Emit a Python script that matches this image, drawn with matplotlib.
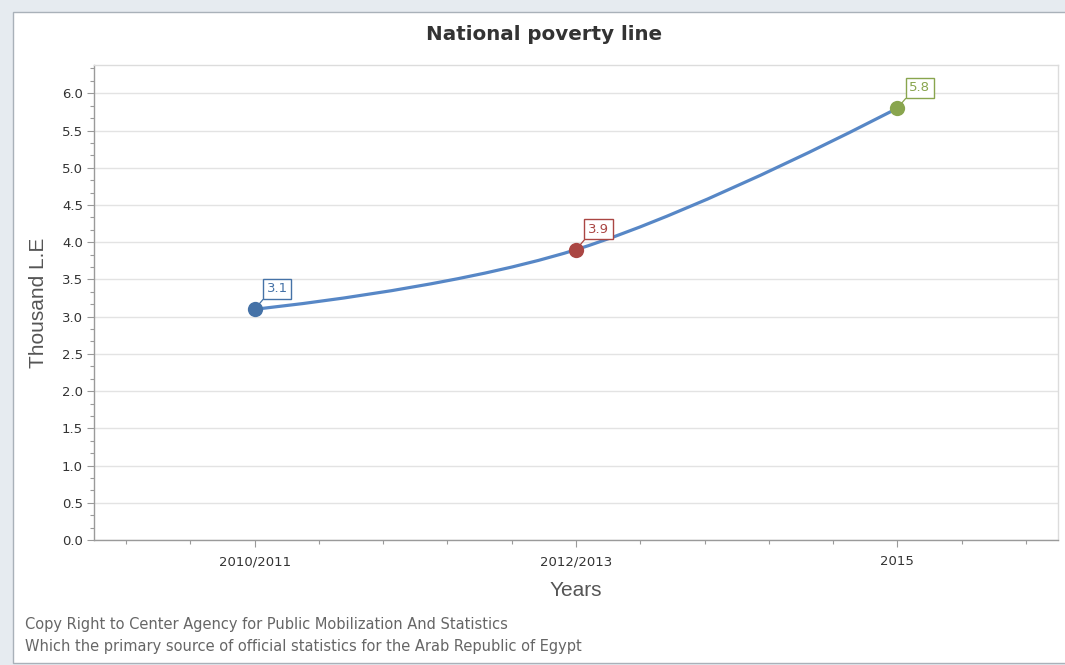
import numpy as np
import matplotlib
matplotlib.use("Agg")
import matplotlib.pyplot as plt
from matplotlib.patches import Rectangle, PathPatch
from matplotlib.path import Path
from matplotlib.ticker import MultipleLocator, FixedLocator, FormatStrFormatter

# Data
categories = ["2010/2011", "2012/2013", "2015"]
values = [3.1, 3.9, 5.8]
point_colors = ["#4572A7", "#AA4643", "#89A54E"]
y_ticks = [0.0, 0.5, 1.0, 1.5, 2.0, 2.5, 3.0, 3.5, 4.0, 4.5, 5.0, 5.5, 6.0]

W, H = 1065, 665
fig = plt.figure(figsize=(W / 100, H / 100), dpi=100)
fig.patch.set_facecolor("#e6ebf0")

# white panel behind the chart
panel = Rectangle((13 / W, 1 - 663 / H), 1.0, (663 - 12) / H, transform=fig.transFigure,
                  facecolor="white", edgecolor="#a9b1b9", linewidth=1.0, zorder=0)
fig.patches.append(panel)

ax = fig.add_axes([94 / W, 1 - 540 / H, (1058 - 94) / W, (540 - 65) / H])
ax.set_zorder(2)
ax.set_facecolor("white")

x = np.arange(len(values), dtype=float)
y = np.array(values, dtype=float)


def spline_path(px, py, smoothing=1.5):
    """Smooth bezier path through the points (control points from neighbours)."""
    n = len(px)
    left = [(px[i], py[i]) for i in range(n)]
    right = [(px[i], py[i]) for i in range(n)]
    d = smoothing + 1
    for i in range(1, n - 1):
        lx = (smoothing * px[i] + px[i - 1]) / d
        ly = (smoothing * py[i] + py[i - 1]) / d
        rx = (smoothing * px[i] + px[i + 1]) / d
        ry = (smoothing * py[i] + py[i + 1]) / d
        if rx != lx:
            corr = (ry - ly) * (rx - px[i]) / (rx - lx) + py[i] - ry
            ly += corr
            ry += corr
        left[i] = (lx, ly)
        right[i] = (rx, ry)
    verts = [(px[0], py[0])]
    codes = [Path.MOVETO]
    for i in range(1, n):
        verts += [right[i - 1], left[i], (px[i], py[i])]
        codes += [Path.CURVE4] * 3
    return Path(verts, codes)


curve = PathPatch(spline_path(x, y), facecolor="none", edgecolor="#5787c6",
                  linewidth=2.3, capstyle="round", joinstyle="round", zorder=3)
ax.add_patch(curve)

for xi, yi, c in zip(x, y, point_colors):
    ax.plot(xi, yi, "o", color=c, markersize=11, markeredgewidth=0, zorder=4)
    ax.annotate(f"{yi:.1f}", xy=(xi, yi), xytext=(8.6, 10.0), textcoords="offset points",
                fontsize=9.5, color=c, ha="left", va="bottom",
                bbox=dict(boxstyle="square,pad=0.28", facecolor="white", edgecolor=c, linewidth=1.0),
                arrowprops=dict(arrowstyle="-", color=c, linewidth=0.9, shrinkA=0, shrinkB=0,
                                relpos=(0.0, 0.0)),
                zorder=5)

ax.set_xlim(-0.5, len(values) - 0.5)
ax.set_ylim(0, 6.38)

ax.set_xticks(x)
ax.set_xticklabels(categories)
ax.xaxis.set_minor_locator(MultipleLocator(0.2))
ax.yaxis.set_major_locator(FixedLocator(y_ticks))
ax.yaxis.set_major_formatter(FormatStrFormatter("%.1f"))
ax.yaxis.set_minor_locator(MultipleLocator(0.5 / 3))

ax.tick_params(axis="both", which="major", length=5, width=0.8, color="#9a9a9a",
               labelsize=9.5, labelcolor="#333333")
ax.tick_params(axis="both", which="minor", length=3, width=0.8, color="#9a9a9a")
ax.tick_params(axis="x", which="major", pad=6)
ax.tick_params(axis="y", which="major", pad=3)

ax.grid(axis="y", which="major", color="#e3e3e3", linewidth=1.0)
ax.set_axisbelow(True)

for side in ["left", "bottom"]:
    ax.spines[side].set_color("#9a9a9a")
    ax.spines[side].set_linewidth(1.0)
for side in ["top", "right"]:
    ax.spines[side].set_color("#dcdcdc")
    ax.spines[side].set_linewidth(1.0)

ax.set_ylabel("Thousand L.E", fontsize=15, color="#555555", family="Liberation Sans", labelpad=10)
ax.set_xlabel("Years", fontsize=15, color="#555555", family="Liberation Sans", labelpad=9)

fig.text(544 / W, 1 - 34 / H, "National poverty line", ha="center", va="center",
         fontsize=14.3, fontweight="bold", color="#333333")

fig.text(25 / W, 1 - 625 / H, "Copy Right to Center Agency for Public Mobilization And Statistics",
         ha="left", va="center", fontsize=10.5, color="#666666")
fig.text(25 / W, 1 - 647 / H, "Which the primary source of official statistics for the Arab Republic of Egypt",
         ha="left", va="center", fontsize=10.5, color="#666666")

fig.savefig("out.png", dpi=100, facecolor=fig.get_facecolor())
